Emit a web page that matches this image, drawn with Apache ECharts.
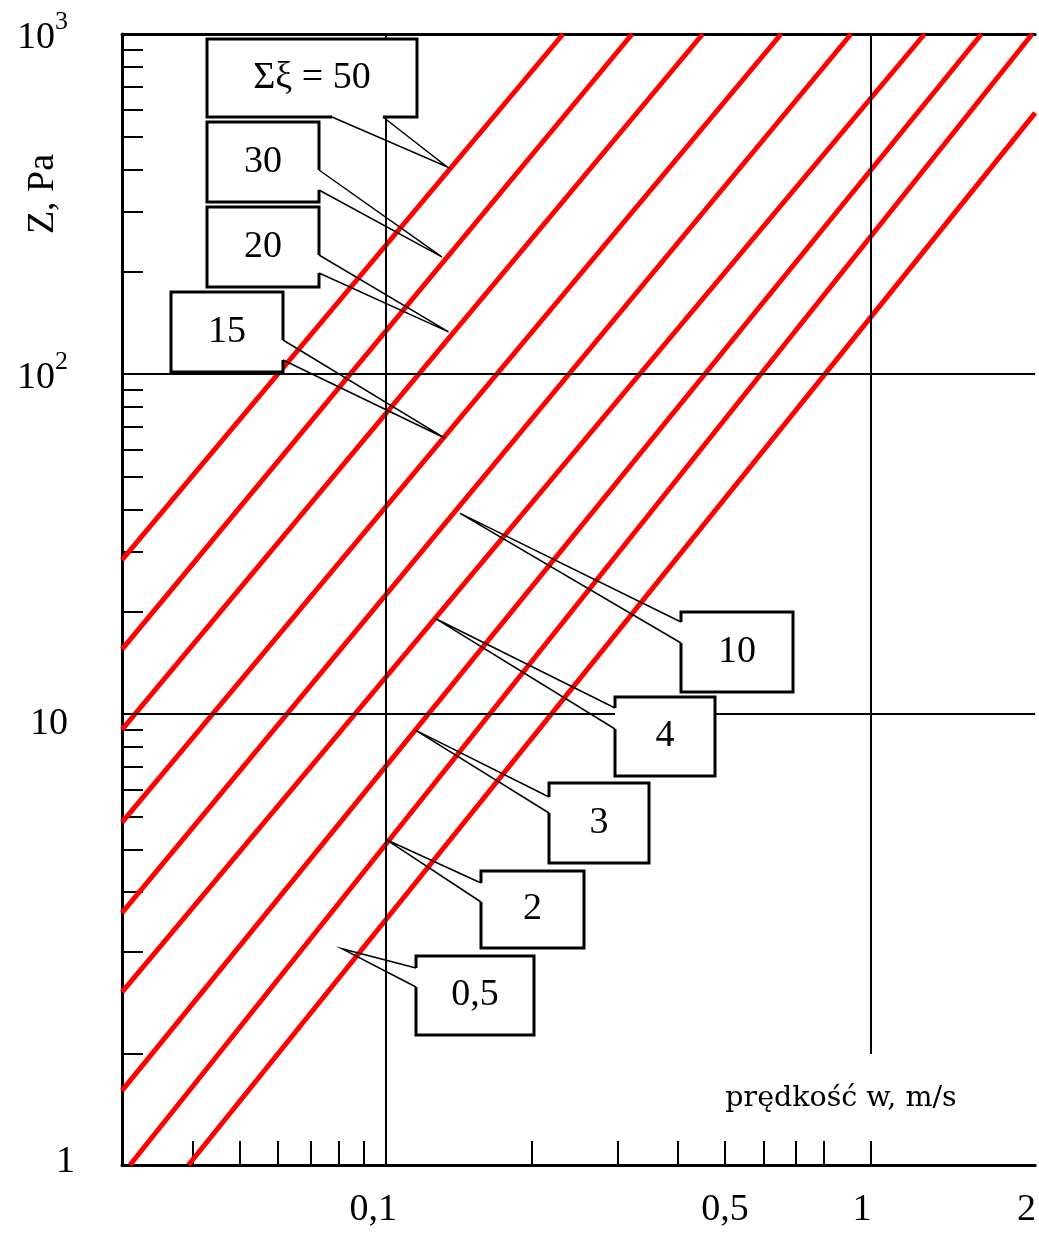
<!DOCTYPE html>
<html>
<head>
<meta charset="utf-8">
<script src="https://cdn.jsdelivr.net/npm/echarts@6/dist/echarts.min.js"></script>
<style>
  html, body { margin: 0; padding: 0; background: #fff; }
  #chart { width: 1039px; height: 1234px; }
</style>
</head>
<body>
<div id="chart"></div>
<script>
// Pressure loss Z [Pa] against velocity w [m/s] for several Σξ values.

// Curve labels, from the top curve down
const curveLabels = ['Σξ = 50', '30', '20', '15', '10', '4', '3', '2', '0,5'];
// Visible end points of each curve
const startW = [0.0286, 0.0286, 0.0286, 0.0286, 0.0286, 0.0286, 0.0286, 0.0297, 0.0392];
const startZ = [28.4, 15.5, 9.0, 4.8, 2.6, 1.52, 0.78, 0.4716, 0.4716];
const endW   = [0.232, 0.322, 0.45, 0.653, 0.91, 1.29, 1.69, 2.15, 2.18];
const endZ   = [1000, 1000, 1000, 1000, 1000, 1000, 1000, 1000, 586];
// Point on each curve that its callout points at
const calloutW = [0.1336, 0.1305, 0.1347, 0.1326, 0.1423, 0.1265, 0.1151, 0.1006, 0.0812];
const calloutZ = [407, 221, 133, 64.7, 38.9, 19.1, 8.97, 4.26, 2.04];

// Axis ranges
const W_MIN = 0.0286, W_MAX = 2.18;
const Z_MIN = 0.4716, Z_MAX = 1000;

// Tick labels
const wLabelValues = [0.1, 0.5, 1, 2];
const wLabels = ['0,1', '0,5', '1', '2'];
const zLabelValues = [0.472, 10, 100, 1000];
const zLabelBase = ['1', '10', '10', '10'];
const zLabelExp = ['', '', '2', '3'];

// Minor ticks
const wTicks = [0.04, 0.05, 0.06, 0.07, 0.08, 0.09, 0.2, 0.3, 0.4, 0.5, 0.6, 0.7, 0.8, 1];
const zTicks = [1, 2, 3, 4, 5, 6, 7, 8, 9, 20, 30, 40, 50, 60, 70, 80, 90,
                200, 300, 400, 500, 600, 700, 800, 900];

// Grid lines
const gridW = [0.1];
const gridZ = [10, 100];
const partialGridW = 1, partialGridZ = [1, 1000];

// Callout boxes (pixel layout): rectangle and the edge the pointer leaves from
const boxLayout = [
  { x: 207, y: 39,  w: 210, h: 78, edge: 'bottom', a: 332, b: 383 },
  { x: 207, y: 122, w: 112, h: 80, edge: 'right',  a: 170, b: 190 },
  { x: 207, y: 207, w: 112, h: 80, edge: 'right',  a: 255, b: 273 },
  { x: 171, y: 292, w: 112, h: 80, edge: 'right',  a: 340, b: 360 },
  { x: 681, y: 612, w: 112, h: 80, edge: 'left',   a: 622, b: 643 },
  { x: 615, y: 697, w: 100, h: 79, edge: 'left',   a: 708, b: 729 },
  { x: 549, y: 783, w: 100, h: 80, edge: 'left',   a: 797, b: 813 },
  { x: 481, y: 871, w: 103, h: 77, edge: 'left',   a: 883, b: 902 },
  { x: 416, y: 956, w: 118, h: 79, edge: 'left',   a: 968, b: 987 }
];

const SERIF = 'Liberation Serif';

function nearestIndex(values, v) {
  let best = 0, bestD = Infinity;
  values.forEach((x, i) => {
    const d = Math.abs(Math.log10(x) - Math.log10(v));
    if (d < bestD) { bestD = d; best = i; }
  });
  return best;
}

function renderCallout(params, api) {
  const i = params.dataIndex;
  const tip = api.coord([api.value(0), api.value(1)]);
  const L = boxLayout[i];
  const x0 = L.x, y0 = L.y, x1 = L.x + L.w, y1 = L.y + L.h;
  let base1, base2, border;
  if (L.edge === 'left') {
    base1 = [x0, L.a]; base2 = [x0, L.b];
    border = [[x0, L.b], [x0, y1], [x1, y1], [x1, y0], [x0, y0], [x0, L.a]];
  } else if (L.edge === 'right') {
    base1 = [x1, L.a]; base2 = [x1, L.b];
    border = [[x1, L.b], [x1, y1], [x0, y1], [x0, y0], [x1, y0], [x1, L.a]];
  } else {
    base1 = [L.a, y1]; base2 = [L.b, y1];
    border = [[L.b, y1], [x1, y1], [x1, y0], [x0, y0], [x0, y1], [L.a, y1]];
  }
  return {
    type: 'group',
    children: [
      { type: 'rect', shape: { x: x0, y: y0, width: L.w, height: L.h },
        style: { fill: '#fff', stroke: null } },
      { type: 'polyline', shape: { points: border },
        style: { stroke: '#000', lineWidth: 3, fill: null, lineJoin: 'miter' } },
      { type: 'polyline', shape: { points: [base1, tip, base2] },
        style: { stroke: '#000', lineWidth: 1.5, fill: null } },
      { type: 'text', x: (x0 + x1) / 2, y: (y0 + y1) / 2,
        style: { text: curveLabels[i], fontSize: 38, fontFamily: SERIF, fill: '#000',
                 align: 'center', verticalAlign: 'middle',
                 textAlign: 'center', textVerticalAlign: 'middle' } }
    ]
  };
}

const curveSeries = curveLabels.map((name, i) => ({
  name: name,
  type: 'line',
  data: [[startW[i], startZ[i]], [endW[i], endZ[i]]],
  symbol: 'none',
  showSymbol: false,
  silent: true,
  clip: true,
  z: 3,
  lineStyle: { color: '#ff0000', width: 5, cap: 'butt' }
}));

const gridSeries = {
  type: 'line',
  data: [],
  silent: true,
  z: 2,
  markLine: {
    silent: true,
    symbol: ['none', 'none'],
    label: { show: false },
    animation: false,
    lineStyle: { color: '#000', width: 2, type: 'solid' },
    emphasis: { disabled: true },
    data: [
      ...gridW.map(v => ({ xAxis: v })),
      ...gridZ.map(v => ({ yAxis: v })),
      [{ coord: [partialGridW, partialGridZ[0]] }, { coord: [partialGridW, partialGridZ[1]] }]
    ]
  }
};

const calloutSeries = {
  type: 'custom',
  coordinateSystem: 'cartesian2d',
  silent: true,
  clip: false,
  z: 5,
  data: calloutW.map((w, i) => [w, calloutZ[i]]),
  renderItem: renderCallout
};

const chart = echarts.init(document.getElementById('chart'), null, { renderer: 'canvas' });

chart.setOption({
  animation: false,
  backgroundColor: '#fff',
  grid: { left: 122, right: 0, top: 34, bottom: 69, containLabel: false },
  xAxis: [
    {
      type: 'log',
      logBase: 10,
      min: W_MIN,
      max: W_MAX,
      axisLine: { show: true, onZero: false, lineStyle: { color: '#000', width: 3 } },
      axisTick: { show: true, inside: true, length: 24, customValues: wTicks,
                  lineStyle: { color: '#000', width: 2 } },
      splitLine: { show: false },
      minorTick: { show: false },
      axisLabel: {
        show: true,
        customValues: wLabelValues,
        margin: 26,
        color: '#000',
        fontSize: 38,
        fontFamily: SERIF,
        formatter: v => {
          const i = nearestIndex(wLabelValues, v);
          return '{x' + i + '|' + wLabels[i] + '}';
        },
        rich: {
          x0: { fontSize: 38, fontFamily: SERIF, color: '#000', padding: [0, 25, 0, 0] },
          x1: { fontSize: 38, fontFamily: SERIF, color: '#000' },
          x2: { fontSize: 38, fontFamily: SERIF, color: '#000', padding: [0, 18, 0, 0] },
          x3: { fontSize: 38, fontFamily: SERIF, color: '#000', padding: [0, 0, 0, 19] }
        }
      }
    },
    {
      type: 'log',
      logBase: 10,
      position: 'top',
      min: W_MIN,
      max: W_MAX,
      axisLine: { show: true, onZero: false, lineStyle: { color: '#000', width: 3 } },
      axisTick: { show: false },
      axisLabel: { show: false },
      splitLine: { show: false }
    }
  ],
  yAxis: {
    type: 'log',
    logBase: 10,
    min: Z_MIN,
    max: Z_MAX,
    axisLine: { show: true, onZero: false, lineStyle: { color: '#000', width: 3 } },
    axisTick: { show: true, inside: true, length: 21, customValues: zTicks,
                lineStyle: { color: '#000', width: 2 } },
    splitLine: { show: false },
    minorTick: { show: false },
    axisLabel: {
      show: true,
      customValues: zLabelValues,
      margin: 47,
      color: '#000',
      fontSize: 38,
      fontFamily: SERIF,
      showMinLabel: true,
      showMaxLabel: true,
      formatter: v => {
        const i = nearestIndex(zLabelValues, v);
        if (zLabelExp[i]) return '{b|' + zLabelBase[i] + '}{s|' + zLabelExp[i] + '}';
        return (i === 0 ? '{d|' : '{c|') + zLabelBase[i] + '}';
      },
      rich: {
        b: { fontSize: 38, fontFamily: SERIF, color: '#000', padding: [8, 0, 0, 0] },
        s: { fontSize: 26, fontFamily: SERIF, color: '#000', padding: [0, 7, 24, 0] },
        c: { fontSize: 38, fontFamily: SERIF, color: '#000', padding: [20, 7, 0, 0] },
        d: { fontSize: 38, fontFamily: SERIF, color: '#000', padding: [0, 0, 6, 0] }
      }
    }
  },
  graphic: [
    {
      type: 'text',
      x: 43,
      y: 194,
      rotation: Math.PI / 2,
      silent: true,
      style: { text: 'Z, Pa', fontSize: 38, fontFamily: SERIF, fill: '#000',
               align: 'center', verticalAlign: 'middle',
               textAlign: 'center', textVerticalAlign: 'middle' }
    },
    {
      type: 'text',
      x: 841,
      y: 1099,
      silent: true,
      style: { text: 'prędkość w, m/s', fontSize: 28.5, fontFamily: 'DejaVu Serif', fill: '#000',
               align: 'center', verticalAlign: 'middle',
               textAlign: 'center', textVerticalAlign: 'middle' }
    }
  ],
  series: [gridSeries, ...curveSeries, calloutSeries]
});
</script>
</body>
</html>
